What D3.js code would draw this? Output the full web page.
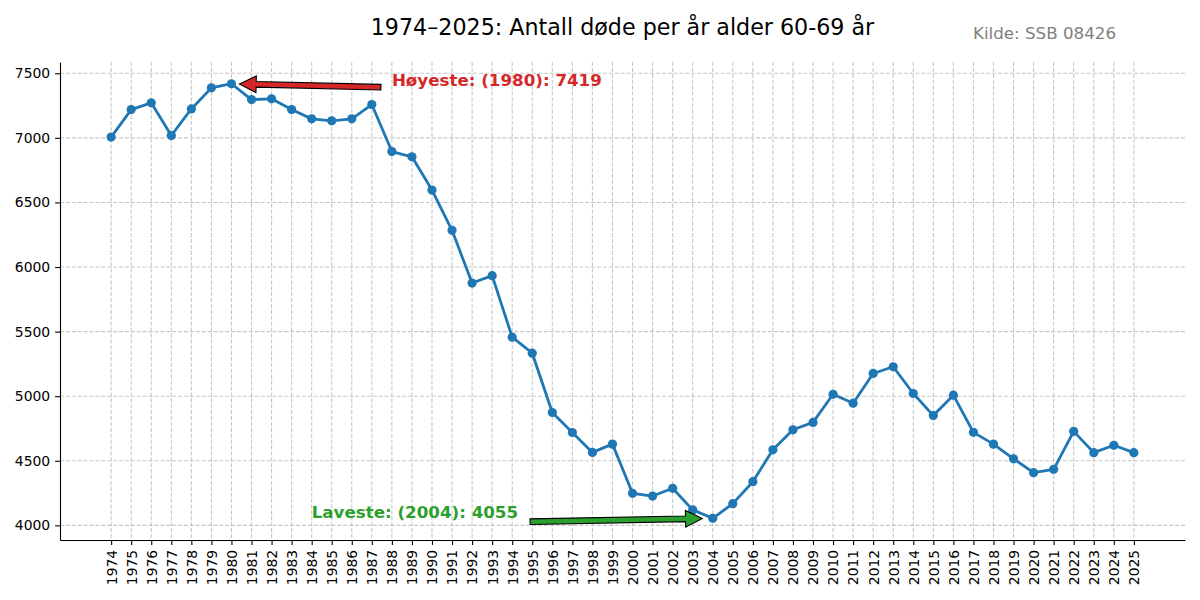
<!DOCTYPE html>
<html>
<head>
<meta charset="utf-8">
<script src="https://cdn.jsdelivr.net/npm/d3@7"></script>
<style>
  body { margin: 0; background: #fff; }
  svg { display: block; font-family: "DejaVu Sans", sans-serif; }
</style>
</head>
<body>
<svg id="chart" width="1200" height="600"></svg>
<script>
const years = [
  1974, 1975, 1976, 1977, 1978, 1979, 1980, 1981, 1982, 1983,
  1984, 1985, 1986, 1987, 1988, 1989, 1990, 1991, 1992, 1993,
  1994, 1995, 1996, 1997, 1998, 1999, 2000, 2001, 2002, 2003,
  2004, 2005, 2006, 2007, 2008, 2009, 2010, 2011, 2012, 2013,
  2014, 2015, 2016, 2017, 2018, 2019, 2020, 2021, 2022, 2023,
  2024, 2025
];
const deaths = [
  7006, 7219, 7271, 7018, 7224, 7387, 7419, 7296, 7302, 7219,
  7147, 7132, 7147, 7258, 6894, 6853, 6596, 6284, 5876, 5933,
  5457, 5333, 4874, 4719, 4565, 4629, 4248, 4227, 4287, 4120,
  4055, 4168, 4338, 4585, 4740, 4797, 5015, 4946, 5176, 5228,
  5021, 4850, 5008, 4720, 4629, 4515, 4408, 4434, 4728, 4563,
  4620, 4563
];
const yTicks = [4000, 4500, 5000, 5500, 6000, 6500, 7000, 7500];

const title = '1974–2025: Antall døde per år alder 60-69 år';
const source = 'Kilde: SSB 08426';

// annotation text anchors (data coords)
const highText = { year: 1988, value: 7400 };
const lowText = { year: 1984, value: 4055 };

const svg = d3.select('#chart');
const margin = { top: 62, right: 15, bottom: 60, left: 60 };
const width = 1200 - margin.left - margin.right;
const height = 600 - margin.top - margin.bottom;

const data = years.map((y, i) => ({ year: y, value: deaths[i] }));
const maxD = data.reduce((a, b) => (b.value > a.value ? b : a));
const minD = data.reduce((a, b) => (b.value < a.value ? b : a));

// matplotlib-like 5% margins
const xPad = (years[years.length - 1] - years[0]) * 0.05;
const yPad = (maxD.value - minD.value) * 0.05;

const x = d3.scaleLinear()
  .domain([years[0] - xPad, years[years.length - 1] + xPad])
  .range([0, width]);
const y = d3.scaleLinear()
  .domain([minD.value - yPad, maxD.value + yPad])
  .range([height, 0]);

const g = svg.append('g').attr('transform', `translate(${margin.left},${margin.top})`);

// grid
const grid = g.append('g')
  .attr('stroke', '#b0b0b0')
  .attr('stroke-opacity', 0.7)
  .attr('stroke-width', 1.1)
  .attr('stroke-dasharray', '4.1,1.8');
grid.selectAll('.vg').data(years).join('line')
  .attr('x1', d => x(d)).attr('x2', d => x(d))
  .attr('y1', 0).attr('y2', height);
grid.selectAll('.hg').data(yTicks).join('line')
  .attr('x1', 0).attr('x2', width)
  .attr('y1', d => y(d)).attr('y2', d => y(d));

// axes
const xAxis = g.append('g')
  .attr('transform', `translate(0,${height})`)
  .call(d3.axisBottom(x).tickValues(years).tickFormat(d => d)
    .tickSize(4.9).tickSizeOuter(0).tickPadding(4.9));
xAxis.selectAll('text')
  .attr('y', 0)
  .attr('x', -9.8)
  .attr('dy', '0.35em')
  .attr('transform', 'rotate(-90)')
  .style('text-anchor', 'end');

const yAxis = g.append('g')
  .call(d3.axisLeft(y).tickValues(yTicks).tickFormat(d => d)
    .tickSize(4.9).tickSizeOuter(0).tickPadding(4.9));

[xAxis, yAxis].forEach(a => {
  a.attr('font-family', '"DejaVu Sans", sans-serif').attr('font-size', 13.9);
  a.selectAll('text').attr('fill', '#000');
  a.selectAll('line').attr('stroke', '#000').attr('stroke-width', 1.1);
  a.select('.domain').attr('stroke', '#000').attr('stroke-width', 1.1);
});

// line + markers
const line = d3.line().x(d => x(d.year)).y(d => y(d.value));
g.append('path')
  .datum(data)
  .attr('fill', 'none')
  .attr('stroke', '#1f77b4')
  .attr('stroke-width', 2.8)
  .attr('stroke-linejoin', 'round')
  .attr('d', line);
g.selectAll('.dot').data(data).join('circle')
  .attr('cx', d => x(d.year))
  .attr('cy', d => y(d.value))
  .attr('r', 4.6)
  .attr('fill', '#1f77b4');

// arrow polygon: tail (x0,y0) -> tip (x1,y1)
function arrowPath(x0, y0, x1, y1) {
  const bw = 5.6, hw = 16.7, hl = 16.7;
  const dx = x1 - x0, dy = y1 - y0;
  const len = Math.hypot(dx, dy);
  const ux = dx / len, uy = dy / len;
  const nx = -uy, ny = ux;
  const bx = x1 - ux * hl, by = y1 - uy * hl;
  const pts = [
    [x0 + nx * bw / 2, y0 + ny * bw / 2],
    [bx + nx * bw / 2, by + ny * bw / 2],
    [bx + nx * hw / 2, by + ny * hw / 2],
    [x1, y1],
    [bx - nx * hw / 2, by - ny * hw / 2],
    [bx - nx * bw / 2, by - ny * bw / 2],
    [x0 - nx * bw / 2, y0 - ny * bw / 2]
  ];
  return 'M' + pts.map(p => p.join(',')).join('L') + 'Z';
}

function annotate(pt, txt, label, color, side) {
  const ann = g.append('g');
  const arrow = ann.append('path');
  const tx = x(txt.year), ty = y(txt.value);
  const t = ann.append('text')
    .attr('x', tx).attr('y', ty)
    .attr('fill', color)
    .attr('font-size', 16.7)
    .attr('font-weight', 'bold')
    .text(label);
  const w = t.node().getComputedTextLength();
  const px = x(pt.year), py = y(pt.value);
  let x0, y0;
  if (side === 'left') { x0 = tx - 11; y0 = ty + 1; }
  else { x0 = tx + w + 12; y0 = ty + 3.4; }
  const len = Math.hypot(px - x0, py - y0);
  const s = side === 'left' ? 8 : 10.5;
  const x1 = px + (x0 - px) / len * s, y1 = py + (y0 - py) / len * s;
  arrow
    .attr('d', arrowPath(x0, y0, x1, y1))
    .attr('fill', color)
    .attr('stroke', '#000')
    .attr('stroke-width', 1.1)
    .attr('stroke-linejoin', 'miter');
}

annotate(maxD, highText, `Høyeste: (${maxD.year}): ${maxD.value}`, '#d62728', 'left');
annotate(minD, lowText, `Laveste: (${minD.year}): ${minD.value}`, '#2ca02c', 'right');

// titles
svg.append('text')
  .attr('x', margin.left + width / 2).attr('y', 35)
  .attr('text-anchor', 'middle')
  .attr('font-size', 22.2)
  .attr('fill', '#000')
  .text(title);
svg.append('text')
  .attr('x', 1116).attr('y', 39)
  .attr('text-anchor', 'end')
  .attr('font-size', 16.7)
  .attr('fill', '#808080')
  .text(source);
</script>
</body>
</html>
